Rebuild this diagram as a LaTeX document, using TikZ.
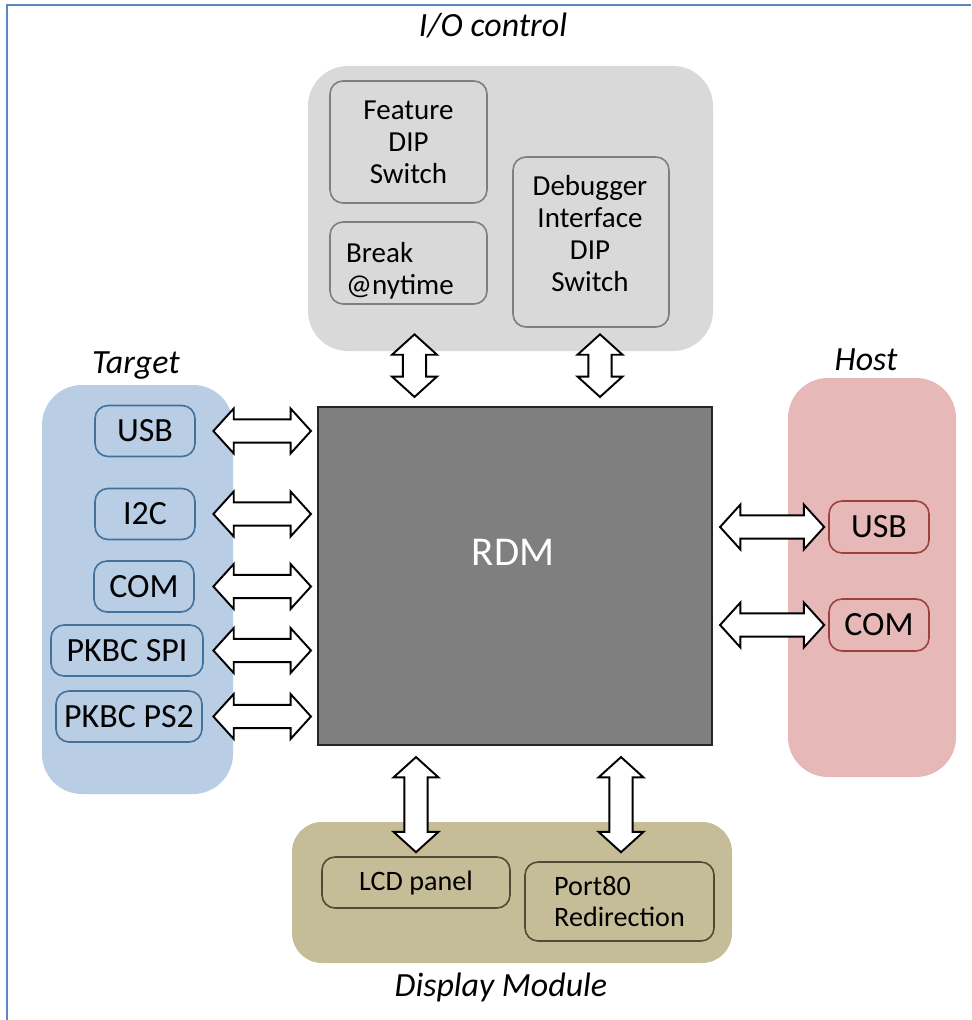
\documentclass[tikz,border=0pt]{standalone}
\usepackage{fontspec}
\setmainfont{Carlito}
\usetikzlibrary{calc}

\newcommand{\pxu}{0.02cm}
\newcommand{\bhl}{11.6pt}
\newcommand{\bhw}{12.8pt}
\newcommand{\bsw}{6.6pt}

\definecolor{iogris}{HTML}{D9D9D9}
\definecolor{ioborde}{HTML}{7F7F7F}
\definecolor{tgtazul}{HTML}{B9CDE5}
\definecolor{tgtborde}{HTML}{41719C}
\definecolor{hostrosa}{HTML}{E6B9B8}
\definecolor{hostborde}{HTML}{A0403E}
\definecolor{dispcaqui}{HTML}{C4BD97}
\definecolor{dispborde}{HTML}{4F4B35}
\definecolor{rdmgris}{HTML}{7F7F7F}
\definecolor{marco}{HTML}{5B87C5}

\tikzset{
  grupo/.style={rectangle, rounded corners=0.8cm, draw=none},
  caja/.style={rectangle, rounded corners=0.26cm, line width=0.9pt, align=center,
    font=\fontsize{16.5pt}{18.2pt}\selectfont},
  cajagrande/.style={caja, font=\fontsize{19.3pt}{22pt}\selectfont},
  cajadisp/.style={caja, draw=dispborde, fill=dispcaqui, font=\fontsize{16pt}{17.6pt}\selectfont},
  titulo/.style={font=\itshape\fontsize{19.3pt}{22pt}\selectfont},
  texto/.style={font=\fontsize{16.5pt}{18.2pt}\selectfont},
  hbus/.style={draw=black, fill=white, line width=1.1pt, to path={
    let \p1=(\tikztostart), \p2=(\tikztotarget) in
    (\x1,\y1) -- (\x1+\bhl,\y1+\bhw) -- (\x1+\bhl,\y1+\bsw) -- (\x2-\bhl,\y1+\bsw)
    -- (\x2-\bhl,\y1+\bhw) -- (\x2,\y1) -- (\x2-\bhl,\y1-\bhw) -- (\x2-\bhl,\y1-\bsw)
    -- (\x1+\bhl,\y1-\bsw) -- (\x1+\bhl,\y1-\bhw) -- cycle}},
  vbus/.style={draw=black, fill=white, line width=1.1pt, to path={
    let \p1=(\tikztostart), \p2=(\tikztotarget) in
    (\x1,\y1) -- (\x1+\bhw,\y1-\bhl) -- (\x1+\bsw,\y1-\bhl) -- (\x1+\bsw,\y2+\bhl)
    -- (\x1+\bhw,\y2+\bhl) -- (\x1,\y2) -- (\x1-\bhw,\y2+\bhl) -- (\x1-\bsw,\y2+\bhl)
    -- (\x1-\bsw,\y1-\bhl) -- (\x1-\bhw,\y1-\bhl) -- cycle}},
}

\begin{document}
\begin{tikzpicture}[x=\pxu, y=-\pxu]
  \useasboundingbox (0,0) rectangle (971,1020);

  % Marco
  \draw[marco, line width=1.2pt] (971,5) -- (7,5) -- (7,1020);

  % Grupos
  \node[grupo, fill=iogris, minimum width=405*\pxu, minimum height=285*\pxu] (io) at (510.5,208.5) {};
  \node[grupo, fill=tgtazul, minimum width=191*\pxu, minimum height=409*\pxu] (tgt) at (137.5,589.5) {};
  \node[grupo, fill=hostrosa, minimum width=168*\pxu, minimum height=399*\pxu] (host) at (872,577.5) {};
  \node[grupo, fill=dispcaqui, rounded corners=0.6cm, minimum width=440*\pxu, minimum height=141*\pxu] (disp) at (512,892.5) {};

  % Titulos
  \node[titulo] (tio) at (493,25) {I/O control};
  \node[titulo] (ttgt) at (136,366) {Target};
  \node[titulo] (thost) at (866,360) {Host};
  \node[titulo] (tdisp) at (501,987) {Display Module};

  % I/O control
  \node[caja, draw=ioborde, fill=iogris, minimum width=157*\pxu, minimum height=122*\pxu] (feat) at (408.5,142) {Feature\\DIP\\Switch};
  \node[caja, draw=ioborde, fill=iogris, minimum width=157*\pxu, minimum height=82*\pxu] (brk) at (408.5,263) {};
  \node[texto, align=left, anchor=west] (brktxt) at (340,271) {Break\\@nytime};
  \node[caja, draw=ioborde, fill=iogris, minimum width=156*\pxu, minimum height=170*\pxu] (dbg) at (591,242) {};
  \node[texto, align=center] (dbgtxt) at (590,234) {Debugger\\Interface\\DIP\\Switch};

  % RDM
  \node[draw=black!85, fill=rdmgris, line width=1.2pt, minimum width=394*\pxu, minimum height=338*\pxu] (rdm) at (515,576) {};
  \node[text=white, font=\fontsize{23.3pt}{28pt}\selectfont] (rdmtxt) at (513,552) {RDM};

  % Target
  \foreach \nombre/\texto/\cx/\cy/\an in {tusb/USB/145/431/100, ti2c/I2C/145/514/100, tcom/COM/144/586.5/100,
      tspi/PKBC SPI/127/650.5/152, tps2/PKBC PS2/129/716.5/146}
    \node[cajagrande, draw=tgtborde, fill=tgtazul, minimum width=\an*\pxu, minimum height=51*\pxu] (\nombre) at (\cx,\cy) {\texto};

  % Host
  \node[cajagrande, draw=hostborde, fill=hostrosa, minimum width=100*\pxu, minimum height=52*\pxu] (husb) at (879,527) {USB};
  \node[cajagrande, draw=hostborde, fill=hostrosa, minimum width=100*\pxu, minimum height=52*\pxu] (hcom) at (879,625) {COM};

  % Display Module
  \node[cajadisp, minimum width=188*\pxu, minimum height=51*\pxu] (lcd) at (416,882.5) {LCD panel};
  \node[cajadisp, align=left, minimum width=189*\pxu, minimum height=79*\pxu] (p80) at (619.5,901.5) {Port80\\Redirection};

  % Buses
  \foreach \n in {tusb,ti2c,tcom,tspi,tps2}
    \draw[hbus] ([xshift=-20*\pxu]\n.east -| tgt.east) to ([xshift=-6*\pxu]\n.east -| rdm.west);
  \foreach \n in {husb,hcom}
    \draw[hbus] ([xshift=7*\pxu]\n.west -| rdm.east) to ([xshift=-4*\pxu]\n.west);
  \draw[vbus] ([xshift=6*\pxu, yshift=17*\pxu]feat.south |- io.south) to ([xshift=6*\pxu, yshift=9*\pxu]feat.south |- rdm.north);
  \draw[vbus] ([xshift=9*\pxu, yshift=17*\pxu]dbg.south |- io.south) to ([xshift=9*\pxu, yshift=9*\pxu]dbg.south |- rdm.north);
  \draw[vbus] ([yshift=-11*\pxu]lcd.north |- rdm.south) to ([yshift=4*\pxu]lcd.north);
  \draw[vbus] ([xshift=1.5*\pxu, yshift=-11*\pxu]p80.north |- rdm.south) to ([xshift=1.5*\pxu, yshift=9*\pxu]p80.north);
\end{tikzpicture}
\end{document}
